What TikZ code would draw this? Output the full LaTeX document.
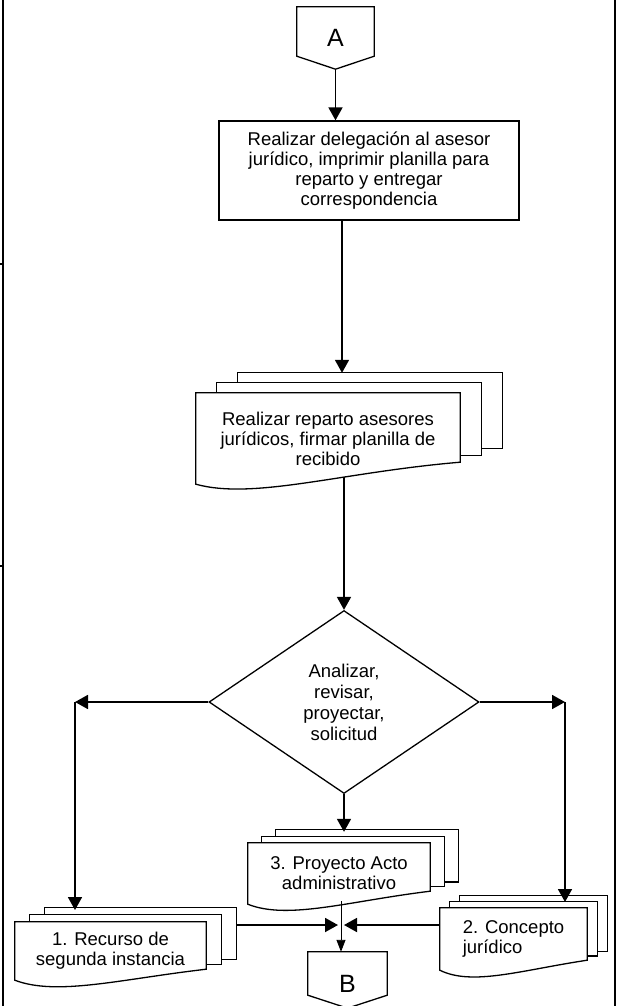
\documentclass[tikz,border=0pt]{standalone}
\usepackage{fontspec}
\setmainfont{Liberation Sans}
\usetikzlibrary{arrows.meta,calc,shapes.geometric}

\newcommand{\docstack}[4]{%
  \draw[sheet] (#1.north west) -- (#1.north east) -- ($(#1.south east)+(0,-#4)$)
    .. controls ($(#1.south west)!0.55!(#1.south east)+(0,10-#4)$) and ($(#1.south west)!0.22!(#1.south east)+(0,16)$) .. (#1.south west) -- cycle;
  \draw[sheet] ($(#1.north west)+(#2,0)$) -- ++(0,-#3) -- ($(#1.north east)+(#2,-#3)$)
    -- ($(#1.south east)+(#2,-#4-0.7*#3)$) -- ($(#1.south east)+(0,-#4-0.7*#3)$);
  \draw[sheet] ($(#1.north west)+(2*#2,-#3)$) -- ++(0,-#3) -- ($(#1.north east)+(2*#2,-2*#3)$)
    -- ($(#1.south east)+(2*#2,-#4-1.4*#3)$) -- ($(#1.south east)+(#2,-#4-1.4*#3)$);
}

\begin{document}
\begin{tikzpicture}[x=1pt,y=-1pt,
    sheet/.style={line width=1.3pt},
    flow/.style={line width=1.8pt,-{Triangle[length=13pt,width=14pt]}},
    thinflow/.style={line width=0.9pt,-{Triangle[length=12pt,width=9pt]}},
    txt/.style={font=\fontsize{18.5}{20}\selectfont,align=center,inner sep=0pt},
    conn/.style={font=\fontsize{25}{25}\selectfont,inner sep=0pt,text depth=0pt}]
  \useasboundingbox (0,0) rectangle (618,1006);
  \draw[line width=2.5pt] (3,0) -- (3,1006) (615,0) -- (615,1006)
    (0,264) -- (3,264) (0,566) -- (3,566);

  \node[conn,minimum width=77pt,minimum height=49pt,text height=31pt] (a) at (335.5,31.5) {A};
  \draw[sheet] (a.north west) -- (a.north east) -- (a.south east) -- ($(a.south)+(0,13)$) -- (a.south west) -- cycle;

  \node[txt,draw,sheet,minimum width=300pt,minimum height=99pt] (deleg) at (369,170.5)
    {Realizar delegación al asesor\\jurídico, imprimir planilla para\\reparto y entregar\\correspondencia};

  \node[txt,minimum width=264pt,minimum height=91pt] (rep) at (328,438.5)
    {Realizar reparto asesores\\jurídicos, firmar planilla de\\recibido};
  \docstack{rep}{21}{10}{22}

  \node[txt,diamond,draw,sheet,minimum width=270pt,minimum height=183pt,
    font=\fontsize{18.5}{21}\selectfont] (ana) at (344,702) {Analizar,\\revisar,\\proyectar,\\solicitud};

  \node[txt,minimum width=182pt,minimum height=61pt] (pro) at (339,873.5) {3. Proyecto Acto\\administrativo};
  \docstack{pro}{14}{6.5}{13}
  \node[txt,minimum width=191pt,minimum height=58pt] (sre) at (110.5,951) {1. Recurso de\\segunda instancia};
  \docstack{sre}{15}{7}{11}
  \node[txt,align=left,minimum width=147pt,minimum height=62pt] (con) at (513.5,939) {2. Concepto\\jurídico};
  \docstack{con}{10}{6}{10}

  \node[conn,minimum width=79pt,minimum height=43pt,text height=37pt] (b) at (347.5,973.5) {B};
  \draw[sheet] (b.north west) -- (b.north east) -- (b.south east) -- ($(b.south)+(0,13)$) -- (b.south west) -- cycle;

  \coordinate (atip) at ($(a.south)+(0,13)$);
  \coordinate (reptop) at ($(rep.north)+(14,-20)$);
  \coordinate (stop) at (75,910);
  \coordinate (ctop) at (565,902);
  \coordinate (ptop) at ($(pro.north)+(5,-11)$);
  \coordinate (join) at (341,925);

  \draw[flow] (atip) -- (atip |- deleg.north);
  \draw[flow] (deleg.south -| reptop) -- (reptop);
  \draw[flow] ($(rep.south -| ana.north)+(0,-7)$) -- (ana.north);
  \draw[flow] (ana.west) -- (ana.west -| stop);
  \draw[flow] (ana.west -| stop) -- (stop);
  \draw[flow] (ana.east) -- (ana.east -| ctop);
  \draw[flow] (ana.east -| ctop) -- (ctop);
  \draw[flow] (ana.south) -- (ptop);
  \draw[flow] ($(sre.east |- join)+(30,0)$) -- ($(join)+(-3,0)$);
  \draw[flow] (con.west |- join) -- ($(join)+(3,0)$);
  \draw[thinflow] ($(pro.south -| join)+(0,-3)$) -- (join |- b.north);
\end{tikzpicture}
\end{document}
